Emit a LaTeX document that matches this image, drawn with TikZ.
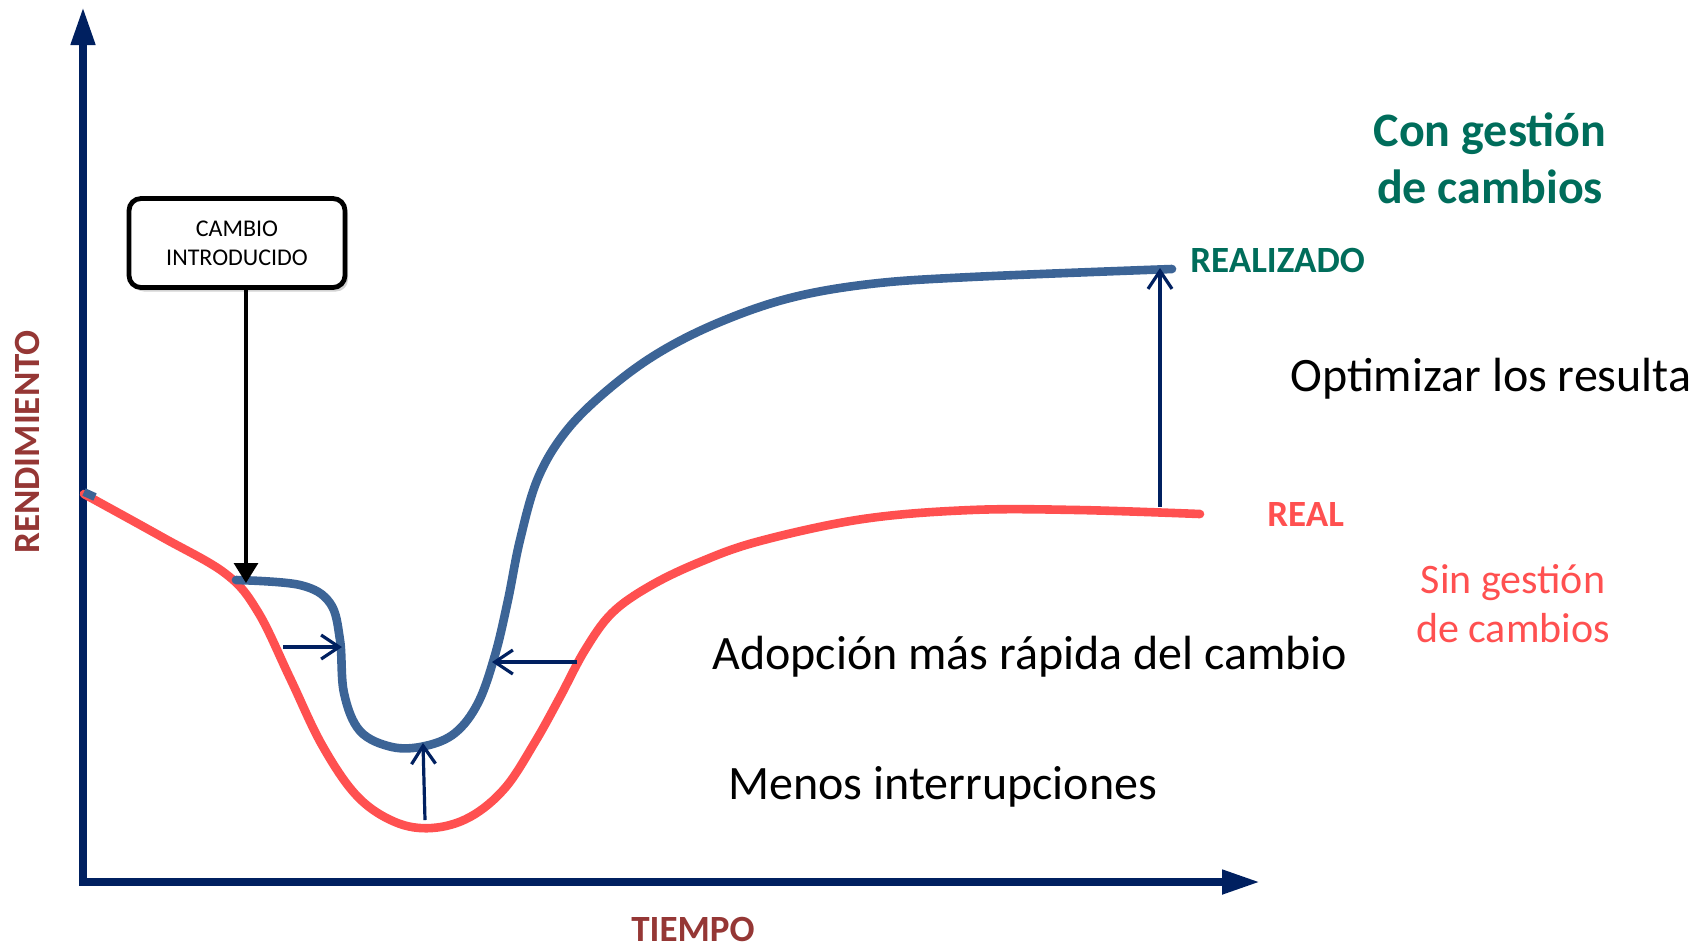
\documentclass[tikz,border=0pt]{standalone}
\usepackage{fontspec}
\setmainfont{Carlito}
\usepackage{tikz}
\usetikzlibrary{arrows.meta,positioning,calc,shadows}
\definecolor{ejes}{HTML}{002060}
\definecolor{conge}{HTML}{3C6496}
\definecolor{singe}{HTML}{FF5050}
\definecolor{verde}{HTML}{006D5B}
\definecolor{granate}{HTML}{953735}

\begin{document}
\begin{tikzpicture}[x=0.5pt, y=-0.5pt,
    eje/.style={line width=3.8pt, ejes, {Triangle[length=19pt,width=11.5pt]}-{Triangle[length=19pt,width=11.5pt]}},
    curva/.style={line width=4.3pt, line cap=round, smooth, tension=0.6},
    flecha/.style={line width=1.6pt, ejes, -{Straight Barb[length=9pt,width=12pt]}},
    caja/.style={draw=black, line width=2.4pt, fill=white, rounded corners=6pt, minimum width=108pt,
                 minimum height=44.5pt, align=center, font=\fontsize{12}{14.5}\selectfont,
                 drop shadow={opacity=0.35, shadow xshift=1.5pt, shadow yshift=-2pt}},
    texto/.style={font=\fontsize{24}{29}\selectfont, anchor=base west, inner sep=0pt},
    eti/.style={font=\fontsize{18.5}{22}\selectfont\bfseries, inner sep=0pt}]
    \useasboundingbox (0,0) rectangle (1691,950);
    % ejes
    \coordinate (ytop) at (83,7);
    \coordinate (orig) at (83,882);
    \coordinate (xfin) at (1260,882);
    \draw[eje] (ytop) -- (orig) -- (xfin);
    \node[eti, granate, rotate=90] (rend) at (27,442) {RENDIMIENTO};
    \node[eti, granate] (tiempo) at (693,929) {TIEMPO};
    % curvas
    \draw[curva, singe] plot coordinates {(84,494) (162,537) (226,574) (258,612) (290,678)
      (322,745) (357,796) (395,822) (432,828) (470,817) (505,788) (535,742) (560,697)
      (585,650) (612,613) (650,586) (700,562) (760,541) (863,519) (971,510) (1078,510) (1200,514)};
    \draw[conge, line width=4pt] (84,492) -- (95,497);
    \draw[curva, conge] plot coordinates {(236,580) (300,585) (330,603) (340,640) (344,693)
      (360,731) (392,747) (425,746) (455,733) (478,703) (495,655) (508,600) (520,540)
      (538,478) (567,430) (610,388) (660,352) (720,322) (790,298) (870,284) (971,277) (1172,269)};
    \coordinate (realfin) at (1200,514);
    % flechas
    \coordinate (a1) at (283,647); \coordinate (b1) at (342,647);
    \coordinate (a2) at (577,662); \coordinate (b2) at (492,662);
    \coordinate (a3) at (425,820); \coordinate (b3) at (423,743);
    \coordinate (a4) at (1160,507); \coordinate (b4) at (1160,268);
    \draw[flecha] (a1) -- (b1);
    \draw[flecha] (a2) -- (b2);
    \draw[flecha] (a3) -- (b3);
    \draw[flecha] (a4) -- (b4);
    \node[caja] (cambio) at (237,243) {CAMBIO\\INTRODUCIDO};
    \coordinate (intro) at (246,583);
    \draw[line width=1.6pt, -{Triangle[length=10pt,width=12pt]}] (cambio.south -| intro) -- (intro);
    % textos
    \node[font=\fontsize{24}{28.5}\selectfont\bfseries, verde, align=center] (con) at (1490,158) {Con gestión\\de cambios};
    \node[eti, verde, anchor=west] (realizado) at (1190,260) {REALIZADO};
    \node[eti, singe, anchor=west, right=33.5pt of realfin] (real) {REAL};
    \node[font=\fontsize{21}{24.5}\selectfont, singe, align=center] (sin) at (1513,604) {Sin gestión\\de cambios};
    \node[texto] (optim) at (1290,391) {Optimizar los resulta};
    \node[texto] (adop) at (712,669) {Adopción más rápida del cambio};
    \node[texto] (menos) at (728,799) {Menos interrupciones};
\end{tikzpicture}
\end{document}
